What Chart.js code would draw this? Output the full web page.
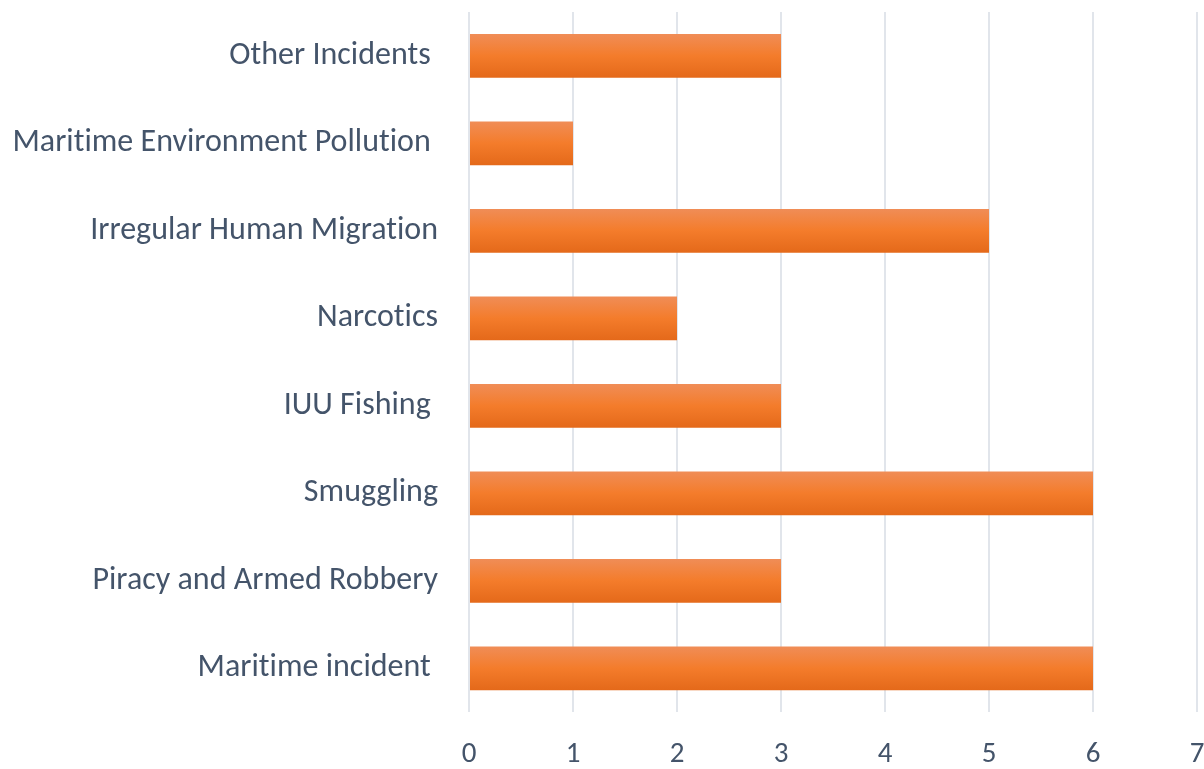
<!DOCTYPE html>
<html>
<head>
<meta charset="utf-8">
<script src="https://cdn.jsdelivr.net/npm/chart.js@4.4.0/dist/chart.umd.min.js"></script>
<style>
  html, body { margin: 0; padding: 0; background: #ffffff; }
  #wrap { width: 1204px; height: 769px; }
</style>
</head>
<body>
<div id="wrap"><canvas id="c" width="1204" height="769"></canvas></div>
<script>
const categories = [
  "Other Incidents ",
  "Maritime Environment Pollution ",
  "Irregular Human Migration",
  "Narcotics",
  "IUU Fishing ",
  "Smuggling",
  "Piracy and Armed Robbery",
  "Maritime incident "
];
const incidentCounts = [3, 1, 5, 2, 3, 6, 3, 6];
const xTickMin = 0;
const xTickMax = 7;

const textColor = "#44546a";
const fontFamily = "Carlito, Lato, 'Open Sans', sans-serif";

function barGradient(ctx) {
  const chart = ctx.chart;
  const area = chart.chartArea;
  if (!area || ctx.type !== 'data') return "#f47c2a";
  const yScale = chart.scales.y;
  const band = (area.bottom - area.top) / categories.length;
  const h = band * 0.5;
  const yc = yScale.getPixelForValue(ctx.dataIndex);
  const g = chart.ctx.createLinearGradient(0, yc - h / 2, 0, yc + h / 2);
  g.addColorStop(0, "#f08d57");
  g.addColorStop(0.5, "#f47c2b");
  g.addColorStop(1, "#e4691a");
  return g;
}

const noLigatures = {
  id: "noLigatures",
  beforeDraw(chart) { try { chart.ctx.letterSpacing = "0.01px"; } catch (e) {} }
};

new Chart(document.getElementById("c"), {
  type: "bar",
  data: {
    labels: categories,
    datasets: [{
      data: incidentCounts,
      backgroundColor: barGradient,
      borderWidth: 0,
      categoryPercentage: 1.0,
      barPercentage: 0.5
    }]
  },
  plugins: [noLigatures],
  options: {
    indexAxis: "y",
    responsive: false,
    animation: false,
    layout: { padding: { top: 12, right: 7, left: 0, bottom: 0 } },
    plugins: { legend: { display: false }, tooltip: { enabled: false } },
    scales: {
      x: {
        min: xTickMin,
        max: xTickMax,
        ticks: {
          stepSize: 1,
          color: textColor,
          font: { family: fontFamily, size: 29 },
          padding: 25
        },
        grid: { color: "#e1e5eb", lineWidth: 2, drawTicks: false },
        border: { display: false },
        afterFit: (s) => { s.height = 57; s.paddingLeft = 0; s.paddingRight = 0; }
      },
      y: {
        ticks: {
          color: textColor,
          font: { family: fontFamily, size: 32 },
          padding: 31
        },
        grid: { display: false, drawTicks: false },
        border: { display: false },
        afterFit: (s) => { s.width = 469; s.paddingTop = 0; s.paddingBottom = 0; }
      }
    }
  }
});
</script>
</body>
</html>
